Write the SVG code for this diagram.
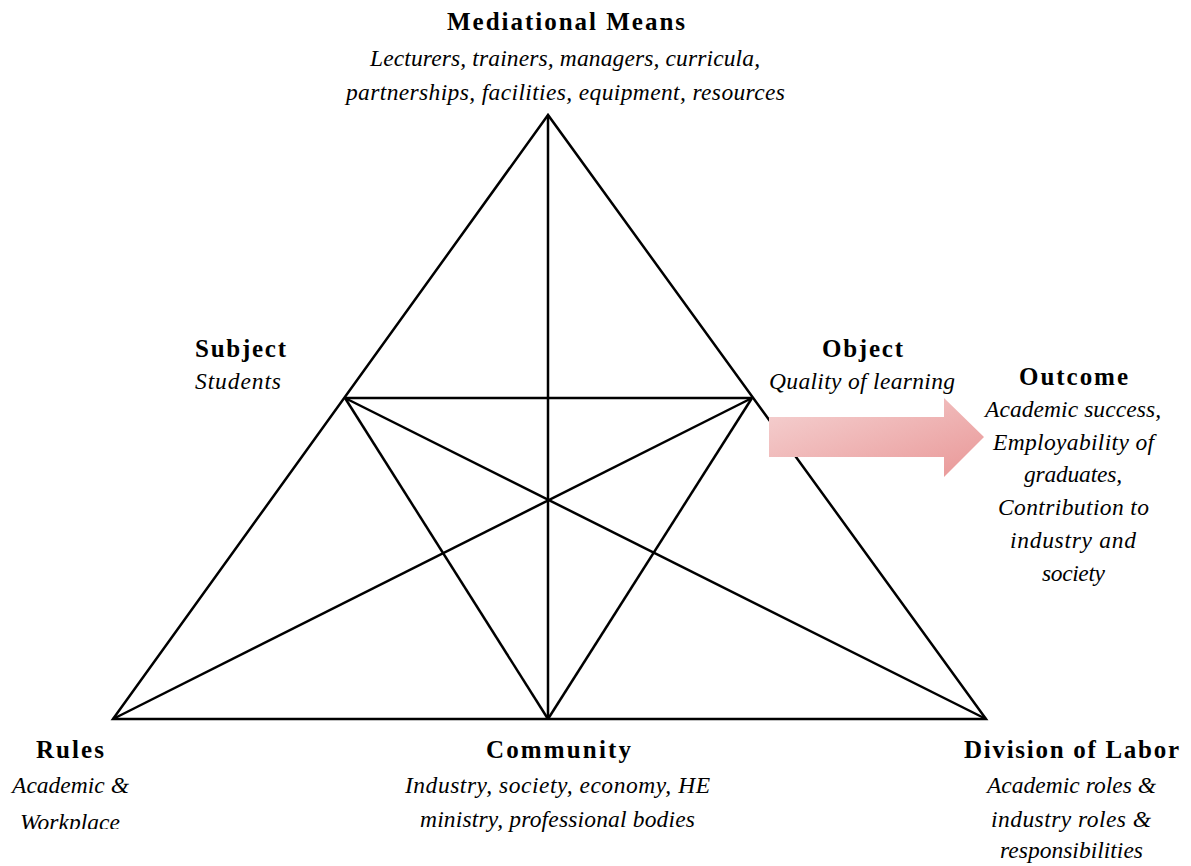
<svg xmlns="http://www.w3.org/2000/svg" width="1191" height="866" viewBox="0 0 1191 866">
<defs>
<style>
.h{font-family:"Liberation Serif","Times New Roman",serif;font-weight:bold;font-size:25px;fill:#000;text-anchor:middle}
.t{font-family:"Liberation Serif","Times New Roman",serif;font-style:italic;font-size:23.5px;fill:#000;text-anchor:middle}
.ln{stroke:#000;stroke-width:2.5;fill:none;stroke-linejoin:miter}
</style>
<linearGradient id="g" x1="0" y1="0" x2="1" y2="1">
<stop offset="0" stop-color="#f5d3d3"/>
<stop offset="1" stop-color="#e99797"/>
</linearGradient>
<clipPath id="clipRules"><rect x="0" y="730" width="200" height="99"/></clipPath>
</defs>
<rect width="1191" height="866" fill="#fff"/>
<g id="connectors">
<polygon class="ln" points="548,115 113,719 986,719"/>
<line class="ln" x1="548" y1="115" x2="548" y2="719"/>
<line class="ln" x1="345" y1="398" x2="752" y2="398"/>
<line class="ln" x1="345" y1="398" x2="548" y2="719"/>
<line class="ln" x1="752" y1="398" x2="548" y2="719"/>
<line class="ln" x1="345" y1="398" x2="986" y2="719"/>
<line class="ln" x1="752" y1="398" x2="113" y2="719"/>
<polygon id="outcome-arrow" points="769,417 944,417 944,398 984,437 944,477 944,457 769,457" fill="url(#g)"/>
</g>
<g id="mediational">
<text class="h" x="566" y="30" textLength="238">Mediational Means</text>
<text class="t" x="565" y="66" textLength="390">Lecturers, trainers, managers, curricula,</text>
<text class="t" x="565.5" y="100" textLength="439">partnerships, facilities, equipment, resources</text>
</g>
<g id="subject">
<text class="h" x="240.5" y="357" textLength="91">Subject</text>
<text class="t" x="238" y="389" textLength="86">Students</text>
</g>
<g id="object">
<text class="h" x="862.5" y="357" textLength="81">Object</text>
<text class="t" x="862" y="389" textLength="186">Quality of learning</text>
</g>
<g id="outcome">
<text class="h" x="1073.5" y="385" textLength="109">Outcome</text>
<text class="t" x="1073" y="417" textLength="176">Academic success,</text>
<text class="t" x="1073.5" y="450" textLength="161">Employability of</text>
<text class="t" x="1073" y="482" textLength="98">graduates,</text>
<text class="t" x="1073.5" y="515" textLength="151">Contribution to</text>
<text class="t" x="1073" y="548" textLength="126">industry and</text>
<text class="t" x="1073.5" y="581" textLength="63">society</text>
</g>
<g id="rules">
<text class="h" x="70" y="758" textLength="68">Rules</text>
<g clip-path="url(#clipRules)">
<text class="t" x="70.5" y="793" textLength="117">Academic &amp;</text>
<text class="t" x="70" y="830" textLength="100">Workplace</text>
</g>
</g>
<g id="community">
<text class="h" x="558.5" y="758" textLength="145">Community</text>
<text class="t" x="557.5" y="793" textLength="305">Industry, society, economy, HE</text>
<text class="t" x="557.5" y="827" textLength="275">ministry, professional bodies</text>
</g>
<g id="division">
<text class="h" x="1071.5" y="758" textLength="215">Division of Labor</text>
<text class="t" x="1071.5" y="793" textLength="169">Academic roles &amp;</text>
<text class="t" x="1071" y="827" textLength="160">industry roles &amp;</text>
<text class="t" x="1071.5" y="858" textLength="143">responsibilities</text>
</g>
</svg>
